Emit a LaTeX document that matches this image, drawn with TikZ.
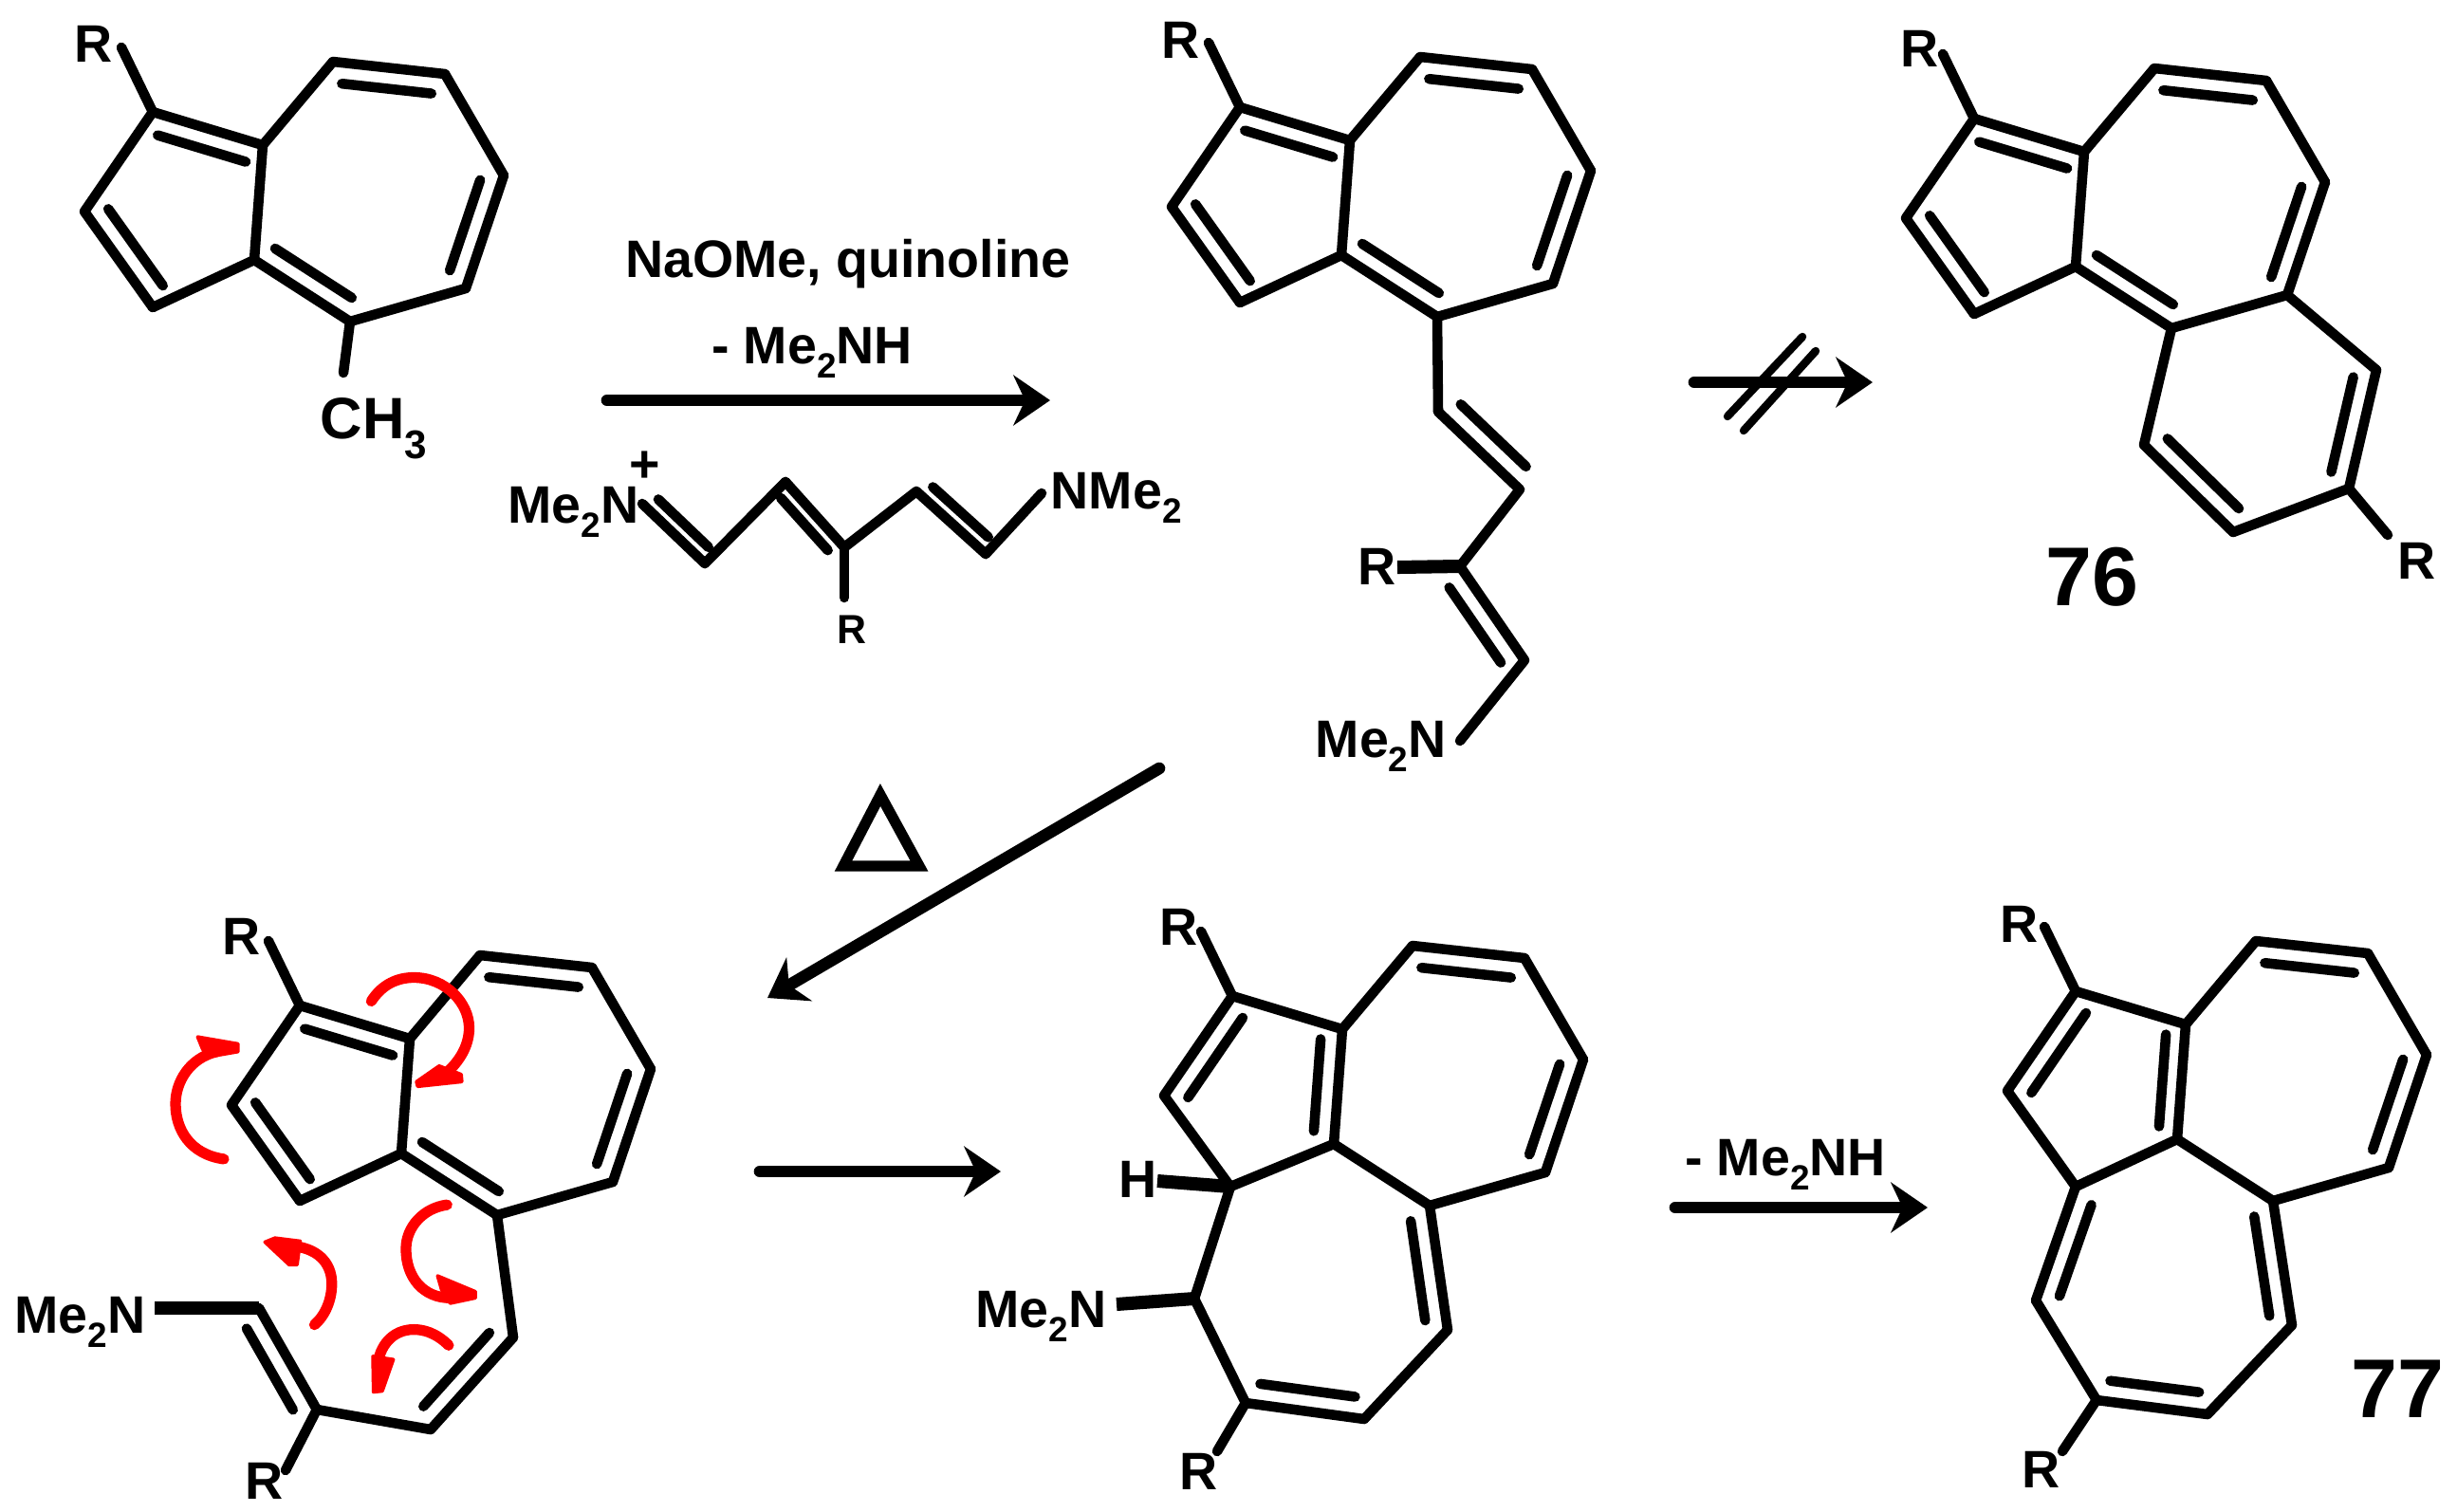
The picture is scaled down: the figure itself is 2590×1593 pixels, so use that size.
\documentclass[tikz,border=0pt]{standalone}
\usepackage{fontspec}
\setmainfont{Liberation Sans}
\usetikzlibrary{calc,arrows.meta}
\tikzset{
  x=0.01cm,y=-0.01cm,
  bond/.style={line width=3pt,line cap=round,line join=round,black},
  heavybond/.style={line width=4pt,line cap=butt,black},
  rarrow/.style={line width=3.6pt,line cap=round,black,-{Stealth[length=11pt,width=15pt,inset=3.5pt]}},
  slash/.style={line width=2.4pt,line cap=round,black},
  redline/.style={line width=3.2pt,red,line cap=round},
  redhead/.style={fill=red,draw=red,line width=1pt,line join=round},
  lab/.style={inner sep=0pt,anchor=base west,font=\fontsize{15.8}{18}\selectfont\bfseries},
  smalllab/.style={inner sep=0pt,anchor=base west,font=\fontsize{12.2}{14}\selectfont\bfseries},
  numlab/.style={inner sep=0pt,anchor=base west,font=\fontsize{25}{28}\selectfont\bfseries},
}
\newcommand{\lowtwo}[1]{\raisebox{-4.5pt}{\fontsize{10.5}{11}\selectfont #1}}
\newcommand{\dbl}[3][0.22cm]{%
  \draw[bond] (#2)--(#3);
  \draw[bond] ($(#2)!.1!(#3)!#1!-90:(#3)$)--($(#2)!.9!(#3)!#1!-90:(#3)$);}
\newcommand{\sgl}[2]{\draw[bond] (#1)--(#2);}
\newcommand{\azcoords}[3]{%
  \coordinate (#1r) at (128+#2,50+#3);
  \coordinate (#11) at (161+#2,118+#3);
  \coordinate (#12) at (277+#2,153+#3);
  \coordinate (#13) at (351+#2,65+#3);
  \coordinate (#14) at (469+#2,78+#3);
  \coordinate (#15) at (531+#2,185+#3);
  \coordinate (#16) at (491+#2,304+#3);
  \coordinate (#17) at (369+#2,339+#3);
  \coordinate (#18) at (268+#2,274+#3);
  \coordinate (#19) at (161+#2,324+#3);
  \coordinate (#1x) at (89+#2,223+#3);
}
\newcommand{\azbonds}[1]{%
  \sgl{#1r}{#11}
  \dbl{#13}{#14}
  \sgl{#14}{#15}
  \dbl{#15}{#16}
  \sgl{#16}{#17}
  \sgl{#12}{#13}
}
\begin{document}
\begin{tikzpicture}
\useasboundingbox (0,0) rectangle (2590,1593);
% ---------- molecule A
\azcoords{a}{0}{0}\azbonds{a}
\dbl{a1}{a2}\dbl{a7}{a8}\sgl{a8}{a2}\sgl{a8}{a9}\dbl{a9}{ax}\sgl{ax}{a1}
\coordinate (am) at (362,393);
\sgl{a7}{am}
\node[lab] (aR) at (78,65) {R};
\node[lab,font=\fontsize{17.5}{18}\selectfont\bfseries] (aCH) at (337,462) {CH\raisebox{-6pt}{\fontsize{12}{12}\selectfont 3}};
% ---------- reagent
\coordinate (g1) at (677,531);\coordinate (g2) at (743,594);\coordinate (g3) at (828,508);
\coordinate (g4) at (890,577);\coordinate (g5) at (966,518);\coordinate (g6) at (1039,584);
\coordinate (g7) at (1098,520);\coordinate (g8) at (890,630);
\dbl[0.15cm]{g2}{g1}\sgl{g2}{g3}\dbl[0.15cm]{g3}{g4}\sgl{g4}{g5}\dbl[0.15cm]{g6}{g5}\sgl{g6}{g7}\sgl{g4}{g8}
\node[lab] (gN) at (535,551) {Me\lowtwo{2}N};
\node[lab,anchor=center] (gP) at (680,492) {+};
\node[lab] (gM) at (1107,536) {NMe\lowtwo{2}};
\node[smalllab] (gR) at (882,678) {R};
% ---------- arrow 1 and its labels
\coordinate (u1) at (640,422);\coordinate (u2) at (1107,422);
\draw[rarrow] (u1)--(u2);
\node[lab,anchor=base] (t1) at (894,292) {NaOMe, quinoline};
\node[lab,anchor=base] (t2) at (856,383) {- Me\lowtwo{2}NH};
% ---------- molecule B
\azcoords{b}{1146}{-5}\azbonds{b}
\dbl{b1}{b2}\dbl{b7}{b8}\sgl{b8}{b2}\sgl{b8}{b9}\dbl{b9}{bx}\sgl{bx}{b1}
\coordinate (b20) at (1516,434);\coordinate (b21) at (1602,516);\coordinate (b22) at (1539,597);
\coordinate (b23) at (1607,696);\coordinate (b24) at (1539,781);\coordinate (b25) at (1473,598);
\sgl{b7}{b20}\dbl{b21}{b20}\sgl{b21}{b22}\dbl{b22}{b23}\sgl{b23}{b24}
\draw[heavybond] (b25)--(b22);
\node[lab] (bR) at (1224,61) {R};
\node[lab] (bR2) at (1431,616) {R};
\node[lab] (bN) at (1386,798) {Me\lowtwo{2}N};
% ---------- blocked arrow
\coordinate (v1) at (1786,403);\coordinate (v2) at (1974,403);
\draw[rarrow] (v1)--(v2);
\coordinate (s1) at (1900,355);\coordinate (s2) at (1821,439);
\coordinate (s3) at (1914,370);\coordinate (s4) at (1838,454);
\draw[slash] (s1)--(s2);\draw[slash] (s3)--(s4);
% ---------- molecule C (76)
\azcoords{c}{1920}{7}\azbonds{c}
\dbl{c1}{c2}\dbl{c7}{c8}\sgl{c8}{c2}\sgl{c8}{c9}\dbl{c9}{cx}\sgl{cx}{c1}
\coordinate (c20) at (2260,469);\coordinate (c21) at (2354,561);\coordinate (c22) at (2476,515);
\coordinate (c23) at (2505,390);\coordinate (c24) at (2517,564);
\sgl{c7}{c20}\dbl{c21}{c20}\sgl{c21}{c22}\dbl{c23}{c22}\sgl{c23}{c6}\sgl{c22}{c24}
\node[lab] (cR) at (2003,70) {R};
\node[lab] (cR2) at (2527,610) {R};
\node[numlab] (n76) at (2156,638) {76};
% ---------- heat arrow
\coordinate (w1) at (1222,810);\coordinate (w2) at (809,1052);
\draw[rarrow] (w1)--(w2);
\coordinate (tri1) at (928,838);\coordinate (tri2) at (889,913);\coordinate (tri3) at (969,913);
\draw[line width=3.2pt,line join=miter,black] (tri1)--(tri2)--(tri3)--cycle;
% ---------- molecule D
\azcoords{d}{155}{942}\azbonds{d}
\dbl{d1}{d2}\dbl{d7}{d8}\sgl{d8}{d2}\sgl{d8}{d9}\dbl{d9}{dx}\sgl{dx}{d1}
\coordinate (d20) at (541,1410);\coordinate (d21) at (454,1507);\coordinate (d22) at (334,1486);
\coordinate (d23) at (273,1379);\coordinate (d24) at (163,1379);\coordinate (d25) at (301,1550);
\sgl{d7}{d20}\dbl{d20}{d21}\sgl{d21}{d22}\dbl{d23}{d22}\sgl{d22}{d25}
\draw[heavybond] (d24)--(d23);
\node[lab] (dR) at (234,1006) {R};
\node[lab] (dN) at (15,1405) {Me\lowtwo{2}N};
\node[lab] (dR2) at (258,1580) {R};
% ---------- curved red arrows
\begin{scope}[xshift=1.5cm,yshift=-10cm,x=0.003333cm,y=-0.003333cm]
  \draw[redline] (258,665) .. controls (150,650) and (105,570) .. (105,490) .. controls (105,420) and (150,345) .. (235,325);
  \filldraw[redhead] (175,278)--(303,300)--(303,325)--(205,342)--(190,315)--cycle;
  \draw[redline] (725,165) .. controls (760,110) and (810,90) .. (860,90) .. controls (960,90) and (1035,170) .. (1035,250) .. controls (1035,310) and (1000,360) .. (960,395);
  \filldraw[redhead] (868,420)--(940,370)--(1010,397)--(1012,420)--(872,435)--cycle;
  \draw[redline] (965,810) .. controls (890,820) and (835,880) .. (835,950) .. controls (835,1040) and (890,1105) .. (975,1105);
  \filldraw[redhead] (935,1035)--(1055,1085)--(1055,1105)--(975,1122)--(948,1080)--cycle;
  \draw[redline] (545,1190) .. controls (580,1160) and (600,1110) .. (600,1060) .. controls (600,990) and (550,945) .. (470,940);
  \filldraw[redhead] (388,928)--(420,915)--(500,925)--(490,1000)--(465,1000)--cycle;
  \draw[redline] (970,1255) .. controls (930,1215) and (890,1205) .. (860,1205) .. controls (790,1205) and (750,1260) .. (745,1320);
  \filldraw[redhead] (730,1290)--(795,1300)--(760,1400)--(732,1403)--cycle;
\end{scope}
% ---------- arrow 3
\coordinate (x1) at (801,1235);\coordinate (x2) at (1055,1235);
\draw[rarrow] (x1)--(x2);
% ---------- molecule E
\azcoords{f}{1138}{932}
\coordinate (f9) at (1297,1251);
\azbonds{f}
\dbl{fx}{f1}\dbl{f2}{f8}\sgl{f1}{f2}\sgl{f9}{fx}\sgl{f8}{f9}
\coordinate (f20) at (1526,1402);\coordinate (f21) at (1438,1496);\coordinate (f22) at (1313,1479);
\coordinate (f23) at (1259,1369);\coordinate (f24) at (1177,1375);\coordinate (f25) at (1283,1530);
\coordinate (f26) at (1220,1245);
\sgl{f8}{f7}\dbl{f7}{f20}\sgl{f20}{f21}\dbl{f21}{f22}\sgl{f22}{f23}\sgl{f23}{f9}\sgl{f22}{f25}
\draw[heavybond] (f24)--(f23);
\draw[heavybond] (f26)--(f9);
\node[lab] (fR) at (1222,996) {R};
\node[lab] (fH) at (1179,1262) {H};
\node[lab] (fN) at (1028,1399) {Me\lowtwo{2}N};
\node[lab] (fR2) at (1243,1570) {R};
% ---------- arrow 4
\coordinate (y1) at (1766,1273);\coordinate (y2) at (2032,1273);
\draw[rarrow] (y1)--(y2);
\node[lab,anchor=base] (t3) at (1882,1239) {- Me\lowtwo{2}NH};
% ---------- molecule F (77)
\azcoords{h}{2027}{927}\azbonds{h}
\dbl{hx}{h1}\dbl[0.2cm]{h2}{h8}\sgl{h1}{h2}\sgl{h9}{hx}\sgl{h8}{h9}
\coordinate (h20) at (2146,1371);\coordinate (h21) at (2210,1476);\coordinate (h22) at (2327,1491);
\coordinate (h23) at (2416,1397);\coordinate (h24) at (2174,1530);
\sgl{h8}{h7}\dbl{h20}{h9}\sgl{h20}{h21}\dbl{h22}{h21}\sgl{h22}{h23}\dbl{h7}{h23}\sgl{h21}{h24}
\node[lab] (hR) at (2108,993) {R};
\node[lab] (hR2) at (2131,1568) {R};
\node[numlab] (n77) at (2478,1494) {77};
\end{tikzpicture}
\end{document}
